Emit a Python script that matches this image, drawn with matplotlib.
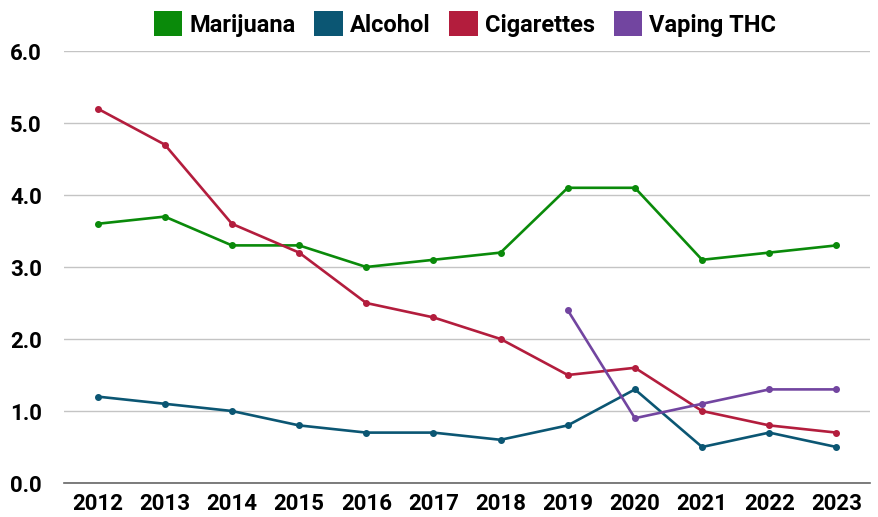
import matplotlib.pyplot as plt
import matplotlib.patches as mpatches

# data
years = [2012, 2013, 2014, 2015, 2016, 2017, 2018, 2019, 2020, 2021, 2022, 2023]
marijuana = [3.6, 3.7, 3.3, 3.3, 3.0, 3.1, 3.2, 4.1, 4.1, 3.1, 3.2, 3.3]
alcohol = [1.2, 1.1, 1.0, 0.8, 0.7, 0.7, 0.6, 0.8, 1.3, 0.5, 0.7, 0.5]
cigarettes = [5.2, 4.7, 3.6, 3.2, 2.5, 2.3, 2.0, 1.5, 1.6, 1.0, 0.8, 0.7]
vaping_years = [2019, 2020, 2021, 2022, 2023]
vaping_thc = [2.4, 0.9, 1.1, 1.3, 1.3]
y_ticks = [0, 1, 2, 3, 4, 5, 6]

series = [
    ("Marijuana", years, marijuana, "#0a8a0a"),
    ("Alcohol", years, alcohol, "#0b5673"),
    ("Cigarettes", years, cigarettes, "#b31d3d"),
    ("Vaping THC", vaping_years, vaping_thc, "#7245a0"),
]

plt.rcParams['font.family'] = ['Roboto', 'DejaVu Sans']
plt.rcParams['font.weight'] = 'bold'

fig = plt.figure(figsize=(8.79, 5.17), dpi=100)
ax = fig.add_axes([64 / 879, 1 - 483 / 517, (870 - 64) / 879, (483 - 51) / 517])

handles = []
for name, xs, ys, color in series:
    ax.plot(xs, ys, color=color, lw=1.9, marker='o', ms=4, zorder=3)
    handles.append(mpatches.Patch(facecolor=color, edgecolor='none', label=name))

ax.set_xlim(2011.5, 2023.5)
ax.set_ylim(0, 6)
ax.set_xticks(years)
ax.set_xticklabels([str(y) for y in years])
ax.set_yticks(y_ticks)
ax.set_yticklabels([f"{v:.1f}" for v in y_ticks])
ax.tick_params(axis='both', length=0, labelsize=16)
ax.tick_params(axis='y', pad=16)
ax.tick_params(axis='x', pad=7)

ax.grid(axis='y', color='#c4c4c4', lw=1)
ax.set_axisbelow(True)
for s in ['top', 'right', 'left']:
    ax.spines[s].set_visible(False)
ax.spines['bottom'].set_color('#666666')
ax.spines['bottom'].set_linewidth(1.2)

fig.legend(handles=handles, loc='center', bbox_to_anchor=(465 / 879, 1 - 24 / 517),
           ncol=4, frameon=False, fontsize=17, handlelength=1.2, handleheight=1.2,
           handletextpad=0.3, columnspacing=0.8)

fig.savefig("out.png", dpi=100)
